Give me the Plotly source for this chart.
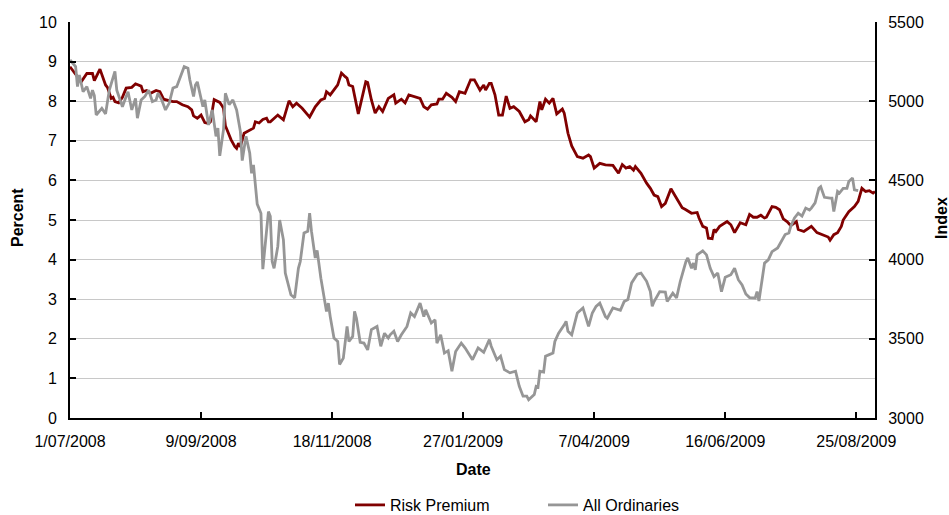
import plotly.graph_objects as go

# Risk premium (percent, left axis)
rp_dates = [
    "2008-07-01", "2008-07-07", "2008-07-10", "2008-07-13", "2008-07-14", "2008-07-17", "2008-07-20",
    "2008-07-21", "2008-07-23", "2008-07-24", "2008-07-25", "2008-07-27", "2008-07-29", "2008-07-31",
    "2008-08-03", "2008-08-05", "2008-08-08", "2008-08-09", "2008-08-11", "2008-08-13", "2008-08-16",
    "2008-08-18", "2008-08-20", "2008-08-22", "2008-08-25", "2008-08-27", "2008-08-30", "2008-09-02",
    "2008-09-04", "2008-09-05", "2008-09-07", "2008-09-09", "2008-09-11", "2008-09-13", "2008-09-14",
    "2008-09-16", "2008-09-19", "2008-09-20", "2008-09-21", "2008-09-22", "2008-09-23", "2008-09-25",
    "2008-09-27", "2008-09-28", "2008-09-29", "2008-09-30", "2008-10-02", "2008-10-04", "2008-10-07",
    "2008-10-08", "2008-10-10", "2008-10-12", "2008-10-14", "2008-10-15", "2008-10-16", "2008-10-20",
    "2008-10-23", "2008-10-26", "2008-10-28", "2008-10-30", "2008-11-02", "2008-11-06", "2008-11-09",
    "2008-11-12", "2008-11-14", "2008-11-15", "2008-11-17", "2008-11-21", "2008-11-23", "2008-11-25",
    "2008-11-26", "2008-11-27", "2008-11-29", "2008-12-02", "2008-12-04", "2008-12-06", "2008-12-07",
    "2008-12-09", "2008-12-11", "2008-12-13", "2008-12-15", "2008-12-18", "2008-12-21", "2008-12-22",
    "2008-12-25", "2008-12-27", "2008-12-29", "2009-01-01", "2009-01-04", "2009-01-06", "2009-01-08",
    "2009-01-10", "2009-01-13", "2009-01-14", "2009-01-16", "2009-01-18", "2009-01-21", "2009-01-23",
    "2009-01-25", "2009-01-28", "2009-01-31", "2009-02-02", "2009-02-05", "2009-02-07", "2009-02-08",
    "2009-02-10", "2009-02-11", "2009-02-13", "2009-02-15", "2009-02-17", "2009-02-19", "2009-02-21",
    "2009-02-23", "2009-02-26", "2009-03-01", "2009-03-03", "2009-03-04", "2009-03-07", "2009-03-09",
    "2009-03-10", "2009-03-12", "2009-03-14", "2009-03-16", "2009-03-18", "2009-03-20", "2009-03-21",
    "2009-03-22", "2009-03-24", "2009-03-26", "2009-03-29", "2009-04-01", "2009-04-04", "2009-04-05",
    "2009-04-07", "2009-04-10", "2009-04-13", "2009-04-17", "2009-04-18", "2009-04-20", "2009-04-22",
    "2009-04-24", "2009-04-26", "2009-04-28", "2009-04-29", "2009-05-02", "2009-05-05", "2009-05-07",
    "2009-05-09", "2009-05-11", "2009-05-13", "2009-05-15", "2009-05-18", "2009-05-21", "2009-05-24",
    "2009-05-26", "2009-05-29", "2009-06-01", "2009-06-02", "2009-06-04", "2009-06-06", "2009-06-07",
    "2009-06-09", "2009-06-10", "2009-06-11", "2009-06-13", "2009-06-17", "2009-06-19", "2009-06-21",
    "2009-06-24", "2009-06-27", "2009-06-29", "2009-07-01", "2009-07-03", "2009-07-05", "2009-07-07",
    "2009-07-08", "2009-07-11", "2009-07-13", "2009-07-15", "2009-07-17", "2009-07-19", "2009-07-21",
    "2009-07-24", "2009-07-25", "2009-07-28", "2009-07-31", "2009-08-01", "2009-08-04", "2009-08-07",
    "2009-08-10", "2009-08-11", "2009-08-13", "2009-08-15", "2009-08-17", "2009-08-18", "2009-08-21",
    "2009-08-24", "2009-08-26", "2009-08-28", "2009-08-30", "2009-09-01", "2009-09-03", "2009-09-04",
]
rp_values = [
    8.87, 8.49, 8.70, 8.70, 8.52, 8.81, 8.41,
    8.35, 8.07, 8.10, 7.99, 7.96, 8.10, 8.33,
    8.35, 8.44, 8.38, 8.24, 8.27, 8.20, 8.27,
    8.24, 8.05, 8.03, 7.99, 7.99, 7.91, 7.86,
    7.78, 7.63, 7.57, 7.65, 7.46, 7.44, 7.48,
    8.04, 7.97, 7.90, 7.82, 7.38, 7.27, 7.03,
    6.86, 6.81, 6.94, 6.85, 7.19, 7.24, 7.32,
    7.48, 7.45, 7.54, 7.57, 7.48, 7.48, 7.65,
    7.53, 8.01, 7.86, 7.95, 7.82, 7.60, 7.86,
    8.03, 8.07, 8.24, 8.16, 8.41, 8.71, 8.62,
    8.58, 8.41, 8.37, 7.68, 8.12, 8.49, 8.47,
    8.03, 7.70, 7.86, 7.74, 8.07, 8.16, 7.95,
    8.05, 7.96, 8.16, 8.12, 8.07, 7.86, 7.80,
    7.91, 7.93, 8.05, 8.05, 8.20, 8.10, 7.99,
    8.24, 8.20, 8.54, 8.54, 8.28, 8.41, 8.28,
    8.45, 8.45, 8.16, 7.65, 7.65, 8.13, 7.82,
    7.86, 7.74, 7.48, 7.53, 7.63, 7.48, 7.99,
    7.78, 8.05, 7.95, 8.07, 7.68, 7.75, 7.80,
    7.70, 7.19, 6.87, 6.60, 6.56, 6.64, 6.60,
    6.31, 6.43, 6.39, 6.38, 6.31, 6.18, 6.40,
    6.31, 6.35, 6.26, 6.35, 6.18, 5.93, 5.80,
    5.63, 5.59, 5.34, 5.42, 5.79, 5.55, 5.31,
    5.26, 5.17, 5.19, 5.05, 4.84, 4.80, 4.54,
    4.53, 4.76, 4.71, 4.84, 4.96, 4.88, 4.68,
    4.93, 4.88, 5.14, 5.07, 5.07, 5.12, 5.05,
    5.07, 5.34, 5.32, 5.26, 5.03, 4.96, 4.86,
    4.96, 4.76, 4.71, 4.80, 4.84, 4.68, 4.63,
    4.57, 4.49, 4.63, 4.68, 4.84, 5.00, 5.21,
    5.34, 5.47, 5.80, 5.72, 5.74, 5.68, 5.72,
]

# All Ordinaries index (right axis)
ao_dates = [
    "2008-07-01", "2008-07-04", "2008-07-05", "2008-07-06", "2008-07-08", "2008-07-10", "2008-07-12",
    "2008-07-13", "2008-07-14", "2008-07-15", "2008-07-18", "2008-07-20", "2008-07-22", "2008-07-25",
    "2008-07-26", "2008-07-29", "2008-07-31", "2008-08-01", "2008-08-03", "2008-08-05", "2008-08-06",
    "2008-08-08", "2008-08-10", "2008-08-12", "2008-08-14", "2008-08-16", "2008-08-17", "2008-08-19",
    "2008-08-21", "2008-08-23", "2008-08-25", "2008-08-27", "2008-08-31", "2008-09-02", "2008-09-03",
    "2008-09-05", "2008-09-06", "2008-09-07", "2008-09-10", "2008-09-11", "2008-09-13", "2008-09-15",
    "2008-09-17", "2008-09-18", "2008-09-19", "2008-09-21", "2008-09-22", "2008-09-24", "2008-09-26",
    "2008-09-28", "2008-09-30", "2008-10-01", "2008-10-03", "2008-10-05", "2008-10-06", "2008-10-07",
    "2008-10-09", "2008-10-11", "2008-10-12", "2008-10-14", "2008-10-15", "2008-10-16", "2008-10-17",
    "2008-10-18", "2008-10-20", "2008-10-21", "2008-10-23", "2008-10-24", "2008-10-27", "2008-10-29",
    "2008-10-31", "2008-11-01", "2008-11-03", "2008-11-05", "2008-11-06", "2008-11-07", "2008-11-09",
    "2008-11-10", "2008-11-12", "2008-11-15", "2008-11-16", "2008-11-17", "2008-11-19", "2008-11-21",
    "2008-11-22", "2008-11-24", "2008-11-26", "2008-11-27", "2008-11-29", "2008-11-30", "2008-12-01",
    "2008-12-03", "2008-12-05", "2008-12-07", "2008-12-09", "2008-12-12", "2008-12-14", "2008-12-16",
    "2008-12-18", "2008-12-19", "2008-12-21", "2008-12-23", "2008-12-25", "2008-12-28", "2008-12-30",
    "2009-01-01", "2009-01-04", "2009-01-06", "2009-01-07", "2009-01-10", "2009-01-12", "2009-01-13",
    "2009-01-15", "2009-01-17", "2009-01-19", "2009-01-21", "2009-01-23", "2009-01-26", "2009-01-28",
    "2009-02-01", "2009-02-04", "2009-02-07", "2009-02-10", "2009-02-11", "2009-02-14", "2009-02-16",
    "2009-02-18", "2009-02-21", "2009-02-24", "2009-02-26", "2009-02-28", "2009-03-02", "2009-03-03",
    "2009-03-06", "2009-03-07", "2009-03-08", "2009-03-09", "2009-03-11", "2009-03-12", "2009-03-14",
    "2009-03-16", "2009-03-17", "2009-03-19", "2009-03-22", "2009-03-23", "2009-03-24", "2009-03-26",
    "2009-03-29", "2009-04-01", "2009-04-04", "2009-04-06", "2009-04-08", "2009-04-10", "2009-04-13",
    "2009-04-14", "2009-04-17", "2009-04-21", "2009-04-23", "2009-04-25", "2009-04-27", "2009-04-30",
    "2009-05-02", "2009-05-05", "2009-05-07", "2009-05-08", "2009-05-09", "2009-05-12", "2009-05-15",
    "2009-05-16", "2009-05-19", "2009-05-21", "2009-05-23", "2009-05-26", "2009-05-27", "2009-05-29",
    "2009-05-30", "2009-05-31", "2009-06-01", "2009-06-04", "2009-06-06", "2009-06-08", "2009-06-10",
    "2009-06-12", "2009-06-14", "2009-06-16", "2009-06-19", "2009-06-21", "2009-06-23", "2009-06-25",
    "2009-06-27", "2009-06-29", "2009-07-02", "2009-07-03", "2009-07-04", "2009-07-06", "2009-07-07",
    "2009-07-09", "2009-07-11", "2009-07-14", "2009-07-15", "2009-07-18", "2009-07-20", "2009-07-21",
    "2009-07-23", "2009-07-25", "2009-07-27", "2009-07-29", "2009-07-31", "2009-08-01", "2009-08-03",
    "2009-08-05", "2009-08-06", "2009-08-08", "2009-08-11", "2009-08-12", "2009-08-13", "2009-08-15",
    "2009-08-16", "2009-08-18", "2009-08-20", "2009-08-21", "2009-08-23", "2009-08-24", "2009-08-26",
]
ao_values = [
    5260, 5218, 5092, 5165, 5060, 5092, 5018,
    5070, 5035, 4913, 4955, 4920, 5070, 5188,
    5070, 4965, 5030, 5060, 4945, 5018, 4893,
    5008, 5030, 5070, 4998, 5008, 5050, 5008,
    4945, 4988, 5083, 5092, 5218, 5208, 5135,
    5030, 5103, 5122, 4965, 5008, 4850, 4945,
    4778, 4830, 4655, 4820, 5050, 4978, 5008,
    4945, 4810, 4625, 4778, 4673, 4545, 4598,
    4350, 4293, 3940, 4188, 4303, 4273, 3988,
    3945, 4083, 4250, 4125, 3915, 3778, 3758,
    3945, 3988, 4168, 4178, 4293, 4178, 4010,
    4058, 3883, 3673, 3725, 3640, 3505, 3483,
    3338, 3378, 3578, 3483, 3515, 3673, 3630,
    3478, 3473, 3430, 3558, 3578, 3453, 3535,
    3505, 3525, 3548, 3483, 3525, 3578, 3663,
    3640, 3725, 3640, 3683, 3600, 3620, 3473,
    3525, 3410, 3425, 3295, 3420, 3473, 3443,
    3368, 3443, 3415, 3495, 3453, 3368, 3390,
    3305, 3285, 3295, 3200, 3138, 3138, 3115,
    3148, 3200, 3195, 3295, 3290, 3390, 3400,
    3410, 3483, 3535, 3588, 3610, 3548, 3525,
    3663, 3695, 3578, 3663, 3705, 3725, 3640,
    3630, 3695, 3680, 3735, 3748, 3853, 3908,
    3915, 3863, 3798, 3705, 3735, 3798, 3795,
    3735, 3788, 3758, 3863, 3988, 4010, 3945,
    3978, 3935, 4030, 4055, 4030, 3945, 3893,
    3915, 3798, 3888, 3905, 3945, 3873, 3840,
    3783, 3760, 3758, 3798, 3738, 3883, 3978,
    3998, 4050, 4073, 4093, 4158, 4168, 4210,
    4263, 4293, 4275, 4325, 4313, 4325, 4358,
    4450, 4460, 4393, 4388, 4388, 4303, 4430,
    4420, 4450, 4450, 4493, 4515, 4440, 4435,
]

# Axis settings
x_start = "2008-07-01"
x_end = "2009-09-04"
tick_step_days = 70
pct_ticks = list(range(0, 11))
idx_ticks = [3000, 3500, 4000, 4500, 5000, 5500]

RED = "#800000"
GREY = "#969696"
FONT = "Arial, Liberation Sans, sans-serif"

# Plot-area geometry (pixels)
W, H = 949, 515
ML, MR, MT, MB = 70, 74, 22, 97
PW, PH = W - ML - MR, H - MT - MB


def px_x(px):
    return (px - ML) / PW


def px_y(py):
    return (H - MB - py) / PH


fig = go.Figure()
fig.add_trace(go.Scatter(
    x=rp_dates, y=rp_values, name="Risk Premium", mode="lines",
    line=dict(color=RED, width=2.8), yaxis="y",
))
fig.add_trace(go.Scatter(
    x=ao_dates, y=ao_values, name="All Ordinaries", mode="lines",
    line=dict(color=GREY, width=2.8), yaxis="y2",
))

axis_common = dict(
    showline=True, linecolor="black", linewidth=2,
    ticks="inside", ticklen=6, tickwidth=2, tickcolor="black",
    tickfont=dict(family=FONT, size=16, color="black"),
    zeroline=False,
)

title_font = dict(family=FONT, size=16, color="black")

fig.update_layout(
    width=W, height=H,
    margin=dict(l=ML, r=MR, t=MT, b=MB, autoexpand=False),
    paper_bgcolor="white", plot_bgcolor="white",
    font=dict(family=FONT, color="black"),
    showlegend=True,
    legend=dict(
        orientation="h", x=px_x(350), xanchor="left", y=px_y(505), yanchor="middle",
        font=dict(family=FONT, size=16, color="black"),
        entrywidth=148, entrywidthmode="pixels",
        bgcolor="rgba(0,0,0,0)",
    ),
    xaxis=dict(
        **axis_common,
        type="date",
        range=[x_start, x_end],
        tick0=x_start, dtick=tick_step_days * 86400000,
        tickformat="%-d/%m/%Y",
        ticklabelstandoff=8,
        showgrid=False,
    ),
    yaxis=dict(
        **axis_common,
        range=[0, 10], tickvals=pct_ticks,
        ticklabelstandoff=8,
        showgrid=True, gridcolor="#C8C8C8", gridwidth=1,
    ),
    yaxis2=dict(
        **axis_common,
        overlaying="y", side="right",
        range=[3000, 5500], tickvals=idx_ticks,
        ticklabelstandoff=8,
        showgrid=False,
    ),
    annotations=[
        dict(text="<b>Date</b>", xref="paper", yref="paper", x=px_x(473), y=px_y(469),
             xanchor="center", yanchor="middle", showarrow=False, font=title_font),
        dict(text="<b>Percent</b>", xref="paper", yref="paper", x=px_x(17), y=px_y(218),
             xanchor="center", yanchor="middle", textangle=-90, showarrow=False, font=title_font),
        dict(text="<b>Index</b>", xref="paper", yref="paper", x=px_x(941), y=px_y(218),
             xanchor="center", yanchor="middle", textangle=-90, showarrow=False, font=title_font),
    ],
)

fig.write_html("out.html")
